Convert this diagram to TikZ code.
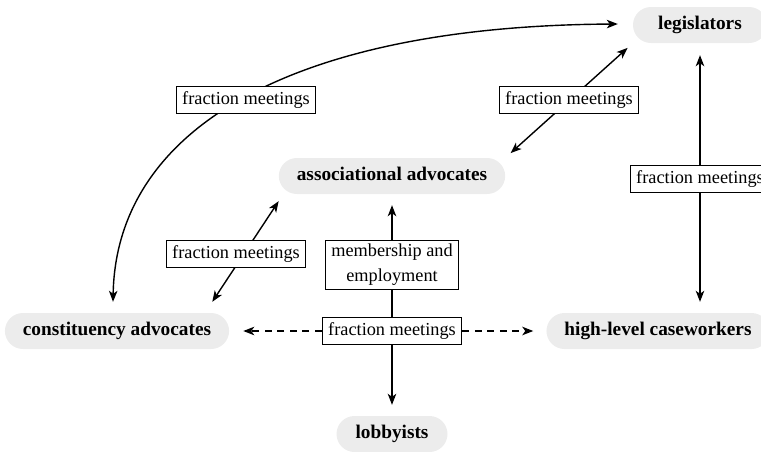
\documentclass[tikz,border=0pt]{standalone}
\usepackage{fontspec}
\setmainfont{Liberation Serif}
\usetikzlibrary{arrows.meta,backgrounds}
\definecolor{pillgray}{RGB}{236,236,236}
\begin{document}
\begin{tikzpicture}[x=1pt,y=-1pt,
  actor/.style={rectangle, rounded corners=18pt, fill=pillgray,
    minimum height=36pt, inner xsep=18pt, inner ysep=0pt,
    text height=13pt, text depth=4pt,
    font=\fontsize{19.3}{22}\selectfont\bfseries},
  boxed/.style={draw, line width=1.2pt, fill=white, inner xsep=6pt,
    font=\fontsize{18.3}{25}\selectfont},
  tag/.style={boxed, inner ysep=5pt, text height=13pt, text depth=4pt},
  twoline/.style={boxed, align=center, inner ysep=4pt},
  link/.style={line width=1.4pt},
  tip/.style={-{Stealth[length=11pt,width=8.5pt,inset=3pt]}},
  dtip/.style={{Stealth[length=11pt,width=8.5pt,inset=3pt]}-{Stealth[length=11pt,width=8.5pt,inset=3pt]}},
  dashlink/.style={dash pattern=on 7pt off 5.5pt}]
\useasboundingbox (0,0) rectangle (761,451);
\clip (0,0) rectangle (761,451);

% actors
\node[actor, minimum width=134pt] (leg)   at (700,25)  {legislators};
\node[actor]                      (assoc) at (392,176) {associational advocates};
\node[actor]                      (con)   at (117,331) {constituency advocates};
\node[actor]                      (hlc)   at (658,331) {high-level caseworkers};
\node[actor, minimum width=111pt] (lob)   at (392,434) {lobbyists};

% channel labels
\node[tag] (fmCurve) at (246,100) {fraction meetings};
\node[tag] (fmUpper) at (569,100) {fraction meetings};
\node[tag] (fmRight) at (700,179) {fraction meetings};
\node[tag] (fmLower) at (236,254) {fraction meetings};
\node[twoline] (mem) at (392,265) {membership and\\employment};
\node[tag] (fmc) at (392,331) {fraction meetings};

\begin{pgfonlayer}{background}
  % constituency advocates <-> legislators
  \draw[link, dtip] ([shift={(-4,-11)}]con.north)
    .. controls +(3,-172) and +(-328,2) .. ([shift={(-15,-1)}]leg.west);
  % associational advocates <-> legislators
  \draw[link, dtip, shorten <=7pt, shorten >=7pt] (assoc.north east) -- (leg.south west);
  % associational advocates <-> constituency advocates
  \draw[link, dtip] ([shift={(0,7)}]assoc.south west) -- ([shift={(-17,-11)}]con.north east);
  % legislators <-> high-level caseworkers
  \draw[link, dtip, shorten <=12pt, shorten >=11pt] (leg.south) -- (leg.south |- hlc.north);
  % central channel
  \draw[link] (fmc) -- (mem);
  \draw[link, tip, shorten >=11pt] (mem.north) -- (assoc.south);
  \draw[link, tip, shorten >=11pt] (fmc.south) -- (lob.north);
  \draw[link, dashlink, tip, shorten >=14pt] (fmc.west) -- (con.east);
  \draw[link, dashlink, tip, shorten >=13pt] (fmc.east) -- (hlc.west);
\end{pgfonlayer}
\end{tikzpicture}
\end{document}
